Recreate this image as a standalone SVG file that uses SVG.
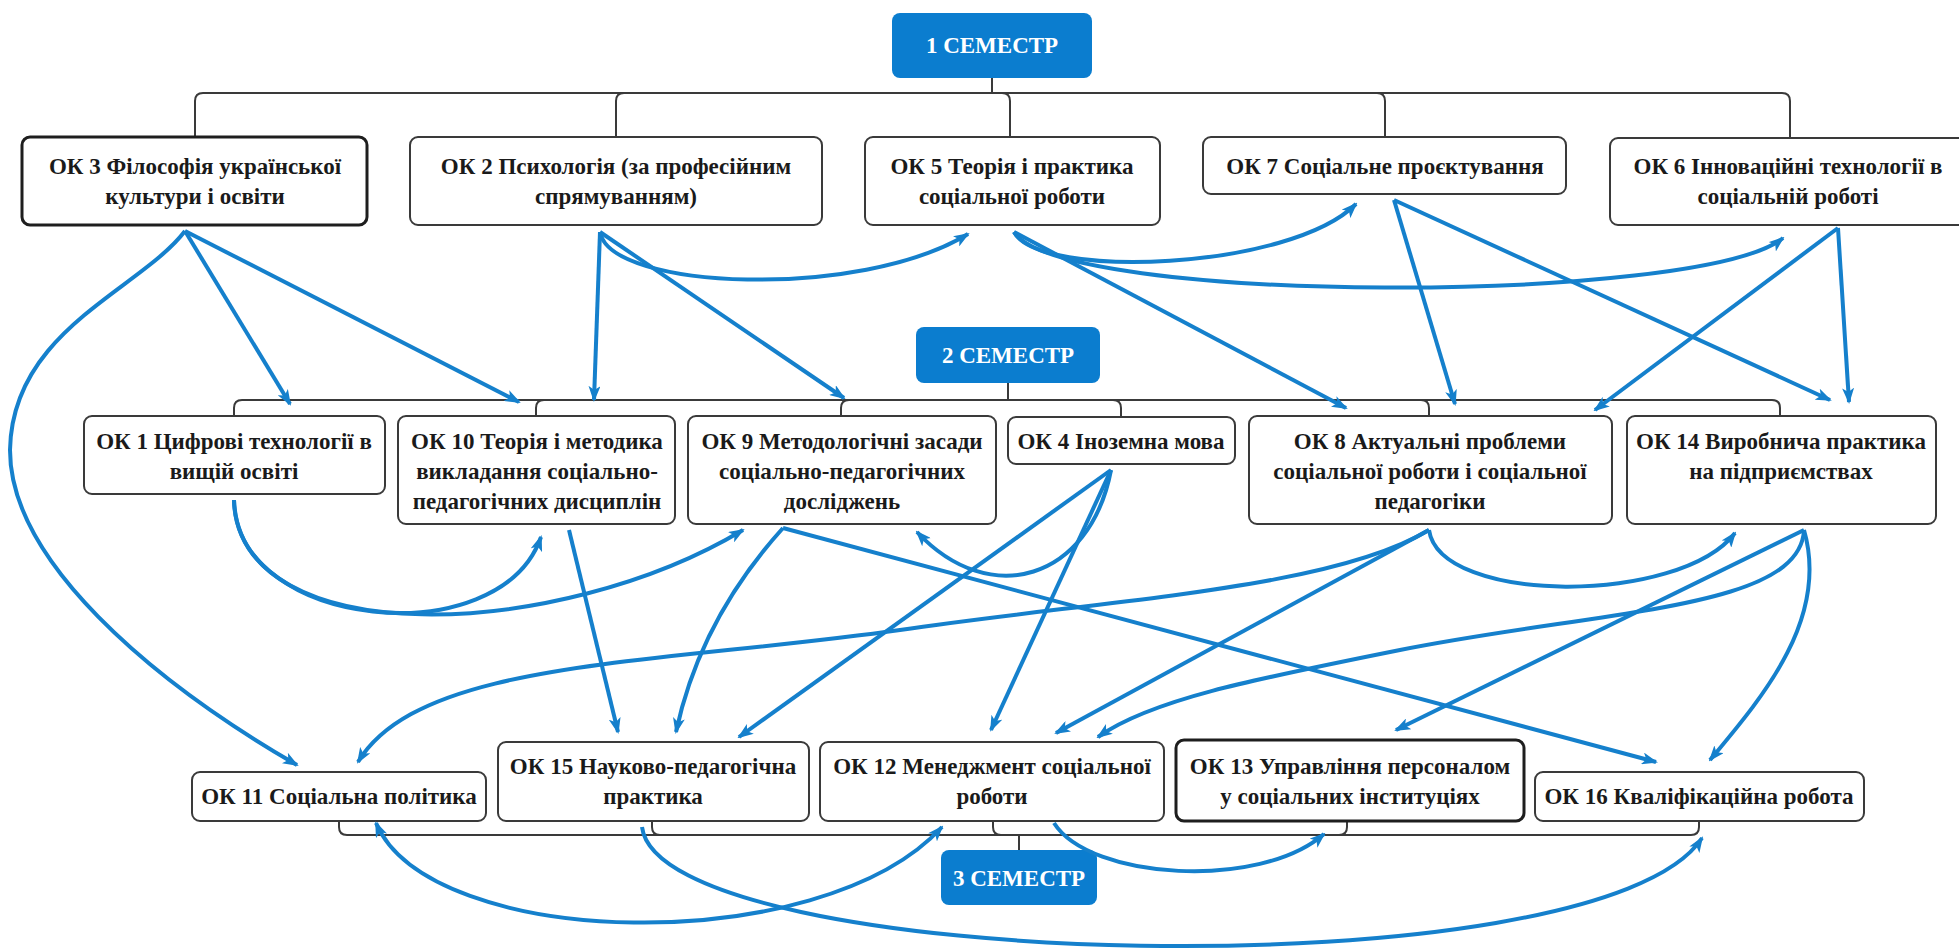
<svg xmlns="http://www.w3.org/2000/svg" width="1959" height="951" viewBox="0 0 1959 951">
<style>
.bg{fill:#ffffff}
.box{fill:#ffffff;stroke:#3a3a3a;stroke-width:2}
.box.thick{stroke:#1e1e1e;stroke-width:3}
.sem{fill:#0b7dcf;stroke:none}
.t{font-family:"Liberation Serif","Times New Roman",serif;font-weight:bold;font-size:23px;fill:#1a1a1a;text-anchor:middle}
.st{font-family:"Liberation Serif","Times New Roman",serif;font-weight:bold;font-size:23px;fill:#ffffff;text-anchor:middle}
.br{fill:none;stroke:#3a3a3a;stroke-width:2}
.c{fill:none;stroke:#1580cc;stroke-width:4;marker-end:url(#ah)}
.c2{fill:none;stroke:#1580cc;stroke-width:4;marker-end:url(#ah);marker-start:url(#ah)}
</style>
<defs>
<marker id="ah" viewBox="0 0 16 12" refX="14" refY="6" markerWidth="16" markerHeight="12" markerUnits="userSpaceOnUse" orient="auto-start-reverse">
<path d="M0,0 L16,6 L0,12 L4,6 z" fill="#1580cc"/>
</marker>
</defs>
<rect class="bg" x="0" y="0" width="1959" height="951"/>

<g id="brackets">
<path class="br" d="M992,78 V93"/>
<path class="br" d="M992,93 H203 Q195,93 195,101 V137"/>
<path class="br" d="M992,93 H624 Q616,93 616,101 V137"/>
<path class="br" d="M992,93 H1002 Q1010,93 1010,101 V137"/>
<path class="br" d="M992,93 H1377 Q1385,93 1385,101 V137"/>
<path class="br" d="M992,93 H1782 Q1790,93 1790,101 V138"/>

<path class="br" d="M1008,383 V400"/>
<path class="br" d="M1008,400 H242 Q234,400 234,408 V416"/>
<path class="br" d="M1008,400 H544 Q536,400 536,408 V416"/>
<path class="br" d="M1008,400 H849 Q841,400 841,408 V416"/>
<path class="br" d="M1008,400 H1113 Q1121,400 1121,408 V417"/>
<path class="br" d="M1008,400 H1421 Q1429,400 1429,408 V416"/>
<path class="br" d="M1008,400 H1772 Q1780,400 1780,408 V416"/>

<path class="br" d="M1019,850 V835"/>
<path class="br" d="M1019,835 H347 Q339,835 339,827 V821"/>
<path class="br" d="M1019,835 H660 Q652,835 652,827 V821"/>
<path class="br" d="M1019,835 H1001 Q993,835 993,827 V821"/>
<path class="br" d="M1019,835 H1339 Q1347,835 1347,827 V821"/>
<path class="br" d="M1019,835 H1691 Q1699,835 1699,827 V821"/>
</g>

<g id="sem1"><rect class="sem" x="892" y="13" width="200" height="65" rx="8"/><text class="st" x="992" y="53">1 СЕМЕСТР</text></g>
<g id="sem2"><rect class="sem" x="916" y="327" width="184" height="56" rx="8"/><text class="st" x="1008" y="363">2 СЕМЕСТР</text></g>
<g id="sem3"><rect class="sem" x="941" y="850" width="156" height="55" rx="8"/><text class="st" x="1019" y="886">3 СЕМЕСТР</text></g>

<g id="ok3"><rect class="box thick" x="22" y="137" width="345" height="88" rx="8"/><text class="t" x="195" y="174">ОК 3 Філософія української</text><text class="t" x="195" y="204">культури і освіти</text></g>
<g id="ok2"><rect class="box" x="410" y="137" width="412" height="88" rx="8"/><text class="t" x="616" y="174">ОК 2 Психологія (за професійним</text><text class="t" x="616" y="204">спрямуванням)</text></g>
<g id="ok5"><rect class="box" x="865" y="137" width="295" height="88" rx="8"/><text class="t" x="1012" y="174">ОК 5 Теорія і практика</text><text class="t" x="1012" y="204">соціальної роботи</text></g>
<g id="ok7"><rect class="box" x="1203" y="137" width="363" height="57" rx="8"/><text class="t" x="1385" y="174">ОК 7 Соціальне проєктування</text></g>
<g id="ok6"><rect class="box" x="1610" y="138" width="358" height="87" rx="8"/><text class="t" x="1788" y="174">ОК 6 Інноваційні технології в</text><text class="t" x="1788" y="204">соціальній роботі</text></g>

<g id="ok1"><rect class="box" x="84" y="416" width="301" height="78" rx="8"/><text class="t" x="234" y="449">ОК 1 Цифрові технології в</text><text class="t" x="234" y="479">вищій освіті</text></g>
<g id="ok10"><rect class="box" x="398" y="416" width="277" height="108" rx="8"/><text class="t" x="537" y="449">ОК 10 Теорія і методика</text><text class="t" x="537" y="479">викладання соціально-</text><text class="t" x="537" y="509">педагогічних дисциплін</text></g>
<g id="ok9"><rect class="box" x="688" y="416" width="308" height="108" rx="8"/><text class="t" x="842" y="449">ОК 9 Методологічні засади</text><text class="t" x="842" y="479">соціально-педагогічних</text><text class="t" x="842" y="509">досліджень</text></g>
<g id="ok4"><rect class="box" x="1008" y="417" width="227" height="47" rx="8"/><text class="t" x="1121" y="449">ОК 4 Іноземна мова</text></g>
<g id="ok8"><rect class="box" x="1249" y="416" width="363" height="108" rx="8"/><text class="t" x="1430" y="449">ОК 8 Актуальні проблеми</text><text class="t" x="1430" y="479">соціальної роботи і соціальної</text><text class="t" x="1430" y="509">педагогіки</text></g>
<g id="ok14"><rect class="box" x="1627" y="416" width="309" height="108" rx="8"/><text class="t" x="1781" y="449">ОК 14 Виробнича практика</text><text class="t" x="1781" y="479">на підприємствах</text></g>

<g id="ok11"><rect class="box" x="192" y="772" width="294" height="49" rx="8"/><text class="t" x="339" y="804">ОК 11 Соціальна політика</text></g>
<g id="ok15"><rect class="box" x="498" y="742" width="311" height="79" rx="8"/><text class="t" x="653" y="774">ОК 15 Науково-педагогічна</text><text class="t" x="653" y="804">практика</text></g>
<g id="ok12"><rect class="box" x="820" y="742" width="344" height="79" rx="8"/><text class="t" x="992" y="774">ОК 12 Менеджмент соціальної</text><text class="t" x="992" y="804">роботи</text></g>
<g id="ok13"><rect class="box thick" x="1176" y="740" width="348" height="81" rx="8"/><text class="t" x="1350" y="774">ОК 13 Управління персоналом</text><text class="t" x="1350" y="804">у соціальних інституціях</text></g>
<g id="ok16"><rect class="box" x="1535" y="772" width="329" height="49" rx="8"/><text class="t" x="1699" y="804">ОК 16 Кваліфікаційна робота</text></g>

<g id="connectors">
<path class="c" d="M185,231 L290,404"/>
<path class="c" d="M185,231 L519,402"/>
<path class="c" d="M185,231 C140,290 12,330 10,450 C10,560 150,680 297,765"/>
<path class="c" d="M600,232 C610,290 860,300 968,234"/>
<path class="c" d="M600,232 L594,400"/>
<path class="c" d="M600,232 L844,398"/>
<path class="c" d="M1014,232 C1040,280 1290,270 1356,204"/>
<path class="c" d="M1014,232 C1060,305 1700,305 1783,238"/>
<path class="c" d="M1014,232 L1346,408"/>
<path class="c" d="M1394,200 L1455,404"/>
<path class="c" d="M1394,200 L1830,400"/>
<path class="c" d="M1838,228 L1595,410"/>
<path class="c" d="M1838,228 L1849,402"/>
<path class="c" d="M234,500 C236,630 500,655 541,537"/>
<path class="c" d="M234,500 C240,655 560,640 743,530"/>
<path class="c" d="M569,530 L618,732"/>
<path class="c" d="M783,528 Q700,620 676,732"/>
<path class="c" d="M783,528 L1656,762"/>
<path class="c" d="M1111,470 C1090,580 990,610 917,532"/>
<path class="c" d="M1111,470 L739,737"/>
<path class="c" d="M1111,470 L991,730"/>
<path class="c" d="M1429,530 C1440,605 1680,605 1735,533"/>
<path class="c" d="M1429,530 C1330,590 1100,600 900,630 C650,665 420,660 358,762"/>
<path class="c" d="M1429,530 L1056,733"/>
<path class="c" d="M1804,530 C1800,610 1600,610 1400,650 C1250,680 1150,700 1098,737"/>
<path class="c" d="M1804,530 L1396,730"/>
<path class="c" d="M1804,530 C1830,620 1760,700 1710,760"/>
<path class="c" d="M642,827 C660,972 1600,995 1702,838"/>
<path class="c2" d="M376,823 C430,950 820,960 942,827"/>
<path class="c" d="M1054,823 C1090,880 1260,890 1324,834"/>
</g>
</svg>
